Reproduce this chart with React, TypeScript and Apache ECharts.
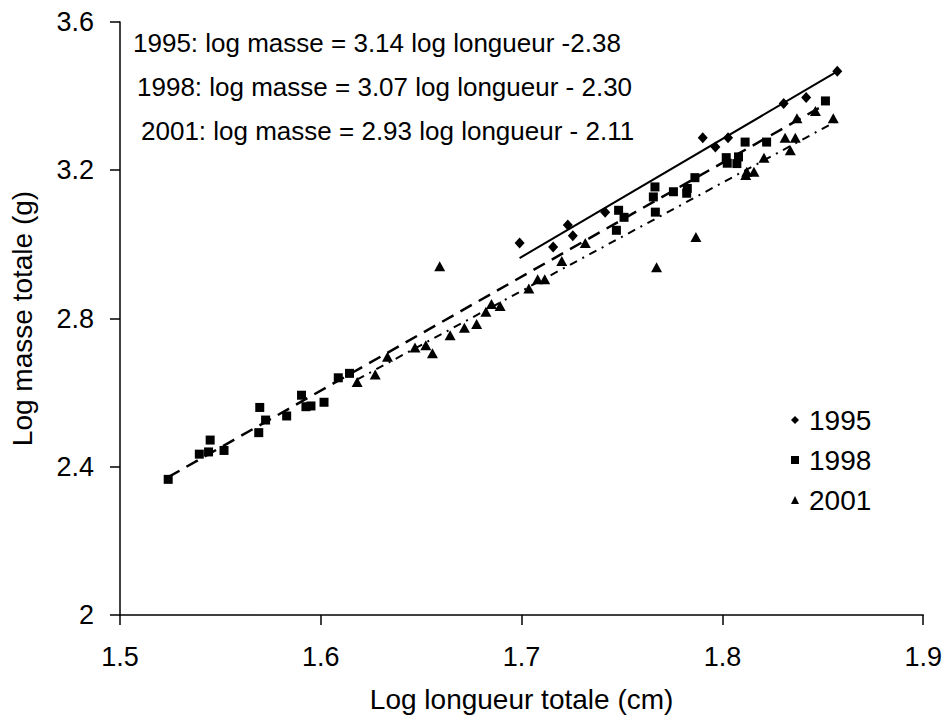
import React, { useEffect, useRef } from "react";
import * as echarts from "echarts";

const FONT = "'Liberation Sans', Arial, sans-serif";

const seriesNames = ["1995", "1998", "2001"];

const data1995: [number, number][] = [
  [1.699, 3.004], [1.7157, 2.993], [1.723, 3.052], [1.7255, 3.023], [1.7416, 3.087],
  [1.7902, 3.288], [1.7965, 3.263], [1.8028, 3.288], [1.8305, 3.38], [1.8417, 3.396],
  [1.8572, 3.467],
];

const data1998: [number, number][] = [
  [1.524, 2.366], [1.5395, 2.434], [1.5441, 2.44], [1.5449, 2.472], [1.5518, 2.444],
  [1.5691, 2.492], [1.5696, 2.56], [1.5725, 2.526], [1.583, 2.537], [1.5904, 2.593],
  [1.5926, 2.562], [1.5951, 2.564], [1.6016, 2.574], [1.6087, 2.64], [1.6143, 2.652],
  [1.7472, 3.038], [1.7483, 3.092], [1.751, 3.073], [1.7666, 3.087], [1.7664, 3.155],
  [1.7656, 3.128], [1.7756, 3.142], [1.7825, 3.151], [1.7822, 3.138], [1.7863, 3.18],
  [1.8019, 3.234], [1.8024, 3.219], [1.808, 3.236], [1.8072, 3.218], [1.8113, 3.276],
  [1.822, 3.276], [1.8513, 3.387],
];

const data2001: [number, number][] = [
  [1.6181, 2.629], [1.6271, 2.649], [1.6332, 2.697], [1.6469, 2.722], [1.6523, 2.728],
  [1.6556, 2.706], [1.6592, 2.941], [1.6644, 2.755], [1.6715, 2.775], [1.6776, 2.785],
  [1.6822, 2.818], [1.685, 2.839], [1.6893, 2.834], [1.7036, 2.881], [1.708, 2.906],
  [1.7115, 2.906], [1.72, 2.955], [1.7317, 3.004], [1.7672, 2.938], [1.7868, 3.02],
  [1.8121, 3.196], [1.8157, 3.196], [1.8116, 3.187], [1.8207, 3.234], [1.8312, 3.288],
  [1.8338, 3.254], [1.8363, 3.288], [1.8371, 3.34], [1.8463, 3.36], [1.8552, 3.34],
];

// regression lines (end points)
const fit1995: [number, number][] = [[1.699, 2.963], [1.857, 3.466]];
const fit1998: [number, number][] = [[1.524, 2.372], [1.852, 3.38]];
const fit2001: [number, number][] = [[1.618, 2.635], [1.856, 3.33]];

const equations = [
  "1995: log masse = 3.14 log longueur -2.38",
  "1998: log masse = 3.07 log longueur - 2.30",
  "2001: log masse = 2.93 log longueur - 2.11",
];

const xTitle = "Log longueur totale (cm)";
const yTitle = "Log masse totale (g)";

export default function App() {
  const ref = useRef<HTMLDivElement>(null);
  useEffect(() => {
    if (!ref.current) return;
    const chart = echarts.init(ref.current, null, { renderer: "svg" });
    const eqPos = [
      [133, 45],
      [137, 89],
      [141, 133],
    ];
    chart.setOption({
      animation: false,
      backgroundColor: "#ffffff",
      textStyle: { fontFamily: FONT, color: "#000" },
      grid: { left: 114, top: 22, width: 811, height: 593, containLabel: false },
      legend: {
        data: seriesNames.map((n, i) => ({
          name: n,
          icon: i === 0 ? "diamond" : i === 1 ? "rect" : "triangle",
        })),
        orient: "vertical",
        left: 786,
        top: 401,
        itemWidth: 8,
        itemHeight: 8,
        itemGap: 12,
        itemStyle: { color: "#000", opacity: 1 },
        textStyle: { fontFamily: FONT, fontSize: 28, color: "#000", padding: [0, 0, 0, 5] },
      },
      xAxis: {
        type: "value",
        min: 1.5,
        max: 1.9,
        interval: 0.1,
        name: xTitle,
        nameLocation: "middle",
        nameGap: 70,
        nameTextStyle: { fontFamily: FONT, fontSize: 28, color: "#000" },
        axisLine: { show: true, onZero: false, lineStyle: { color: "#000", width: 1.5 } },
        axisTick: { show: true, inside: false, length: 10, lineStyle: { color: "#000", width: 1.5 } },
        axisLabel: {
          fontFamily: FONT,
          fontSize: 27,
          color: "#000",
          margin: 28,
          formatter: (v: number) => String(+v.toFixed(1)),
        },
        splitLine: { show: false },
      },
      yAxis: {
        type: "value",
        min: 2,
        max: 3.6,
        interval: 0.4,
        name: yTitle,
        nameLocation: "middle",
        nameGap: 84,
        nameRotate: 90,
        nameTextStyle: { fontFamily: FONT, fontSize: 28, color: "#000" },
        axisLine: { show: true, onZero: false, lineStyle: { color: "#000", width: 1.5 } },
        axisTick: { show: true, inside: false, length: 10, lineStyle: { color: "#000", width: 1.5 } },
        axisLabel: {
          fontFamily: FONT,
          fontSize: 27,
          color: "#000",
          margin: 26,
          formatter: (v: number) => String(+v.toFixed(1)),
        },
        splitLine: { show: false },
      },
      graphic: equations.map((t, i) => ({
        type: "text",
        left: eqPos[i][0],
        top: eqPos[i][1] - 15,
        style: { text: t, font: `26px ${FONT}`, fill: "#000" },
      })),
      series: [
        {
          name: "fit1995",
          type: "line",
          data: fit1995,
          showSymbol: false,
          symbol: "none",
          lineStyle: { color: "#000", width: 2, type: "solid" },
          z: 1,
        },
        {
          name: "fit1998",
          type: "line",
          data: fit1998,
          showSymbol: false,
          symbol: "none",
          lineStyle: { color: "#000", width: 2.5, type: [13, 8] },
          z: 1,
        },
        {
          name: "fit2001",
          type: "line",
          data: fit2001,
          showSymbol: false,
          symbol: "none",
          lineStyle: { color: "#000", width: 2, type: [8, 6, 2, 6] },
          z: 1,
        },
        {
          name: "1995",
          type: "scatter",
          data: data1995,
          symbol: "diamond",
          symbolSize: [10, 11],
          itemStyle: { color: "#000", opacity: 1 },
          z: 3,
        },
        {
          name: "1998",
          type: "scatter",
          data: data1998,
          symbol: "rect",
          symbolSize: 9,
          itemStyle: { color: "#000", opacity: 1 },
          z: 3,
        },
        {
          name: "2001",
          type: "scatter",
          data: data2001,
          symbol: "triangle",
          symbolSize: [11, 10],
          itemStyle: { color: "#000", opacity: 1 },
          z: 3,
        },
      ],
    });
    return () => chart.dispose();
  }, []);
  return (
    <div
      ref={ref}
      style={{ position: "fixed", left: 0, top: 0, width: 945, height: 719, background: "#fff" }}
    />
  );
}
